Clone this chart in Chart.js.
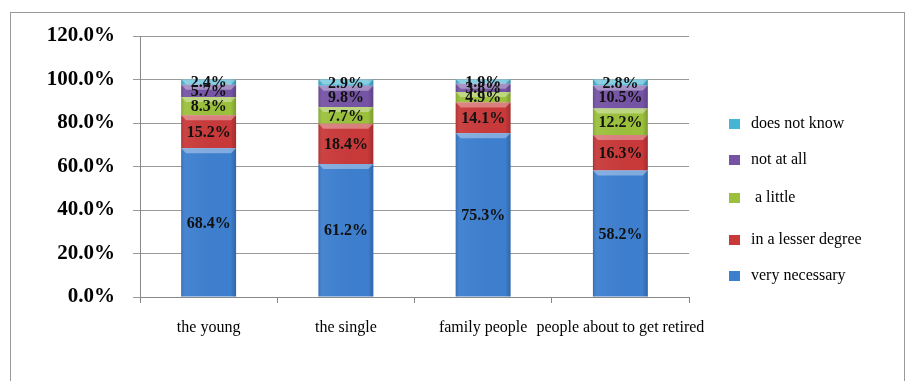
<!DOCTYPE html>
<html>
<head>
<meta charset="utf-8">
<script src="https://cdn.jsdelivr.net/npm/chart.js@4"></script>
<style>
  body { margin: 0; background: #fff; }
  #wrap { position: relative; width: 907px; height: 381px; overflow: hidden; }
  #frame { position: absolute; left: 10px; top: 12px; width: 893px; height: 400px; border: 1px solid #9a9a9a; }
  canvas { position: absolute; left: 0; top: 0; }
</style>
</head>
<body>
<div id="wrap">
  <div id="frame"></div>
  <canvas id="bar-chart" width="907" height="381"></canvas>
</div>
<script>
var groups = ["the young", "the single", "family people", "people about to get retired"];
var veryNecessary = [68.4, 61.2, 75.3, 58.2];
var lesserDegree = [15.2, 18.4, 14.1, 16.3];
var aLittle = [8.3, 7.7, 4.9, 12.2];
var notAtAll = [5.7, 9.8, 3.8, 10.5];
var doesNotKnow = [2.4, 2.9, 1.9, 2.8];
var seriesNames = ["very necessary", "in a lesser degree", " a little", "not at all", "does not know"];
var seriesColors = ["#3d7fcf", "#c9393a", "#9bc13c", "#7654a5", "#45b5d3"];

var serif = "'Liberation Serif', 'Times New Roman', serif";

// glossy look + labels on each segment
var barLabels = {
  id: 'barLabels',
  afterDatasetsDraw: function(chart) {
    var ctx = chart.ctx;
    chart.data.datasets.forEach(function(ds, i) {
      chart.getDatasetMeta(i).data.forEach(function(bar) {
        var l = bar.x - bar.width / 2, top = bar.y, h = bar.base - bar.y;
        var g = ctx.createLinearGradient(l, 0, l + bar.width, 0);
        g.addColorStop(0, 'rgba(0,0,0,0.15)');
        g.addColorStop(0.08, 'rgba(255,255,255,0.05)');
        g.addColorStop(0.9, 'rgba(0,0,0,0.0)');
        g.addColorStop(1, 'rgba(0,0,0,0.2)');
        ctx.fillStyle = g;
        ctx.fillRect(l, top, bar.width, h);
        var bh = Math.min(5, h);
        ctx.fillStyle = 'rgba(255,255,255,0.35)';
        ctx.beginPath();
        ctx.moveTo(l, top);
        ctx.lineTo(l + bar.width, top);
        ctx.lineTo(l + bar.width - 5, top + bh);
        ctx.lineTo(l + 5, top + bh);
        ctx.closePath();
        ctx.fill();
      });
    });
    ctx.save();
    ctx.font = 'bold 16px ' + serif;
    ctx.fillStyle = '#111';
    ctx.textAlign = 'center';
    ctx.textBaseline = 'middle';
    chart.data.datasets.forEach(function(ds, i) {
      chart.getDatasetMeta(i).data.forEach(function(bar, j) {
        ctx.fillText(ds.data[j].toFixed(1) + '%', bar.x, (bar.y + bar.base) / 2 + 1);
      });
    });
    ctx.restore();
  }
};

var sideLegend = {
  id: 'sideLegend',
  afterDraw: function(chart) {
    var ctx = chart.ctx;
    ctx.save();
    ctx.font = '16px ' + serif;
    ctx.textBaseline = 'middle';
    var ys = [276, 240, 198, 160, 124];
    chart.data.datasets.forEach(function(ds, i) {
      var y = ys[i];
      ctx.fillStyle = ds.backgroundColor;
      ctx.fillRect(729, y - 5, 11, 10);
      ctx.fillStyle = '#000';
      ctx.fillText(ds.label, 751, y);
    });
    ctx.restore();
  }
};

var seriesData = [veryNecessary, lesserDegree, aLittle, notAtAll, doesNotKnow];

new Chart(document.getElementById("bar-chart"), {
  type: 'bar',
  data: {
    labels: groups,
    datasets: seriesData.map(function(d, i) {
      return { label: seriesNames[i], data: d, backgroundColor: seriesColors[i] };
    })
  },
  options: {
    responsive: false,
    animation: false,
    layout: { padding: { top: 36, right: 218, bottom: 0, left: 0 } },
    datasets: { bar: { barPercentage: 0.4, categoryPercentage: 1 } },
    plugins: { legend: { display: false }, tooltip: { enabled: false } },
    scales: {
      x: {
        stacked: true,
        afterFit: function(s) { s.height = 84; },
        grid: { offset: true, drawOnChartArea: false, color: '#888', tickLength: 6 },
        border: { color: '#888' },
        ticks: { color: '#000', padding: 15, autoSkip: false, minRotation: 0, maxRotation: 0,
                 font: { family: serif, size: 16 } }
      },
      y: {
        stacked: true,
        min: 0,
        max: 120,
        afterFit: function(s) { s.width = 140; },
        grid: { color: '#999', tickLength: 7 },
        border: { color: '#888' },
        ticks: {
          stepSize: 20,
          padding: 18,
          color: '#000',
          font: { family: serif, size: 21, weight: 'bold' },
          callback: function(v) { return v.toFixed(1) + '%'; }
        }
      }
    }
  },
  plugins: [barLabels, sideLegend]
});
</script>
</body>
</html>
